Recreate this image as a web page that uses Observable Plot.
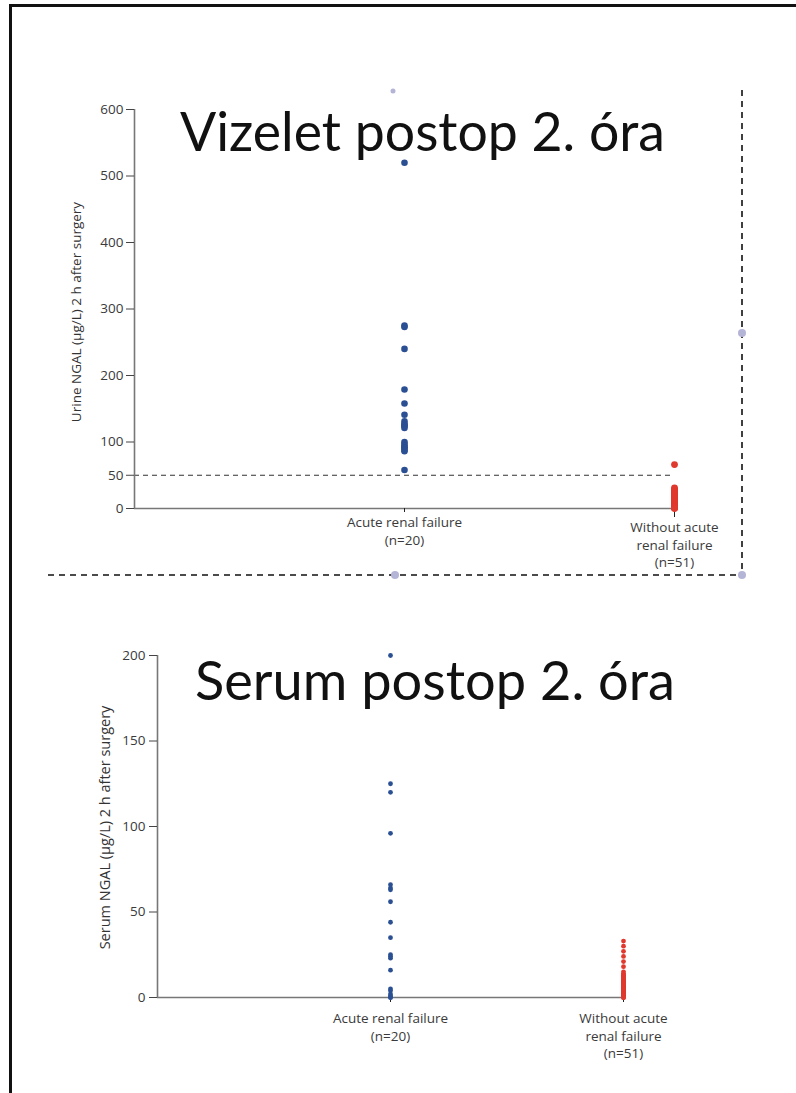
<!DOCTYPE html>
<html><head><meta charset="utf-8">
<script src="https://cdn.jsdelivr.net/npm/d3@7"></script>
<script src="https://cdn.jsdelivr.net/npm/@observablehq/plot@0.6"></script>
<style>
html,body{margin:0;padding:0;background:#fff;}
body{width:796px;height:1093px;position:relative;overflow:hidden;}
#frame{position:absolute;left:9px;top:4px;width:900px;height:1200px;border:3px solid #111;box-sizing:border-box;}
.chart{position:absolute;left:0;}
#c1{top:80px} #c2{top:620px}
#overlay{position:absolute;left:0;top:0;pointer-events:none;}
</style></head><body>
<div id="frame"></div>
<div id="c1" class="chart"></div>
<div id="c2" class="chart"></div>
<svg id="overlay" width="796" height="1093" xmlns="http://www.w3.org/2000/svg">
  <g fill="#111" font-family="Lato, 'Open Sans', sans-serif">
    <text x="180" y="151" font-size="54" textLength="485" lengthAdjust="spacingAndGlyphs">Vizelet postop 2. óra</text>
    <text x="195" y="700" font-size="54" textLength="480" lengthAdjust="spacingAndGlyphs">Serum postop 2. óra</text>
  </g>
  <g stroke="#111" stroke-width="1.6" stroke-dasharray="6,5" fill="none">
    <line x1="48" y1="575" x2="742" y2="575"></line>
    <line x1="742" y1="90" x2="742" y2="575"></line>
  </g>
  <g fill="#b4b4d6">
    <circle cx="395" cy="575" r="4"></circle>
    <circle cx="742" cy="575" r="4"></circle>
    <circle cx="742" cy="333" r="4"></circle>
    <circle cx="393" cy="91" r="2.5"></circle>
  </g>
</svg>
<script>
// ---- data ----
const groups = ["Acute renal failure\n(n=20)", "Without acute\nrenal failure\n(n=51)"];
const urineLabel = "Urine NGAL (\u00b5g/L) 2 h after surgery";
const serumLabel = "Serum NGAL (\u00b5g/L) 2 h after surgery";
const urineTicks = [0, 50, 100, 200, 300, 400, 500, 600];
const serumTicks = [0, 50, 100, 150, 200];
const urineCutoff = 50;
const urineARF = [520, 275, 273, 240, 179, 158, 141, 131, 127, 125, 124, 121, 100, 97, 94, 92, 91, 88, 86, 58];
const urineNoARF = [66, 31, 29, 28, 26, 25, 24, 23, 22, 21, 20, 19, 18, 17, 16, 15, 15, 14, 13, 12, 12, 11, 10, 10, 9, 9, 8, 8, 7, 7, 6, 6, 6, 5, 5, 5, 4, 4, 4, 3, 3, 3, 3, 2, 2, 2, 2, 1, 1, 1, 0];
const serumARF = [200, 125, 120, 96, 66, 64, 63, 56, 44, 35, 25, 24, 23, 16, 5, 4, 2, 1, 0, 0];
const serumNoARF = [33, 30, 27, 24, 21, 18, 15, 14, 13, 13, 12, 12, 11, 11, 10, 10, 9, 9, 9, 8, 8, 8, 7, 7, 7, 6, 6, 6, 5, 5, 5, 5, 4, 4, 4, 4, 3, 3, 3, 3, 2, 2, 2, 2, 1, 1, 1, 1, 0, 0, 0];

const blue = "#2b4f93";
const red = "#e0392e";
const rows = (vals, g) => vals.map(v => ({g, v}));

const style = {fontFamily: "'Open Sans', sans-serif", fontSize: "13.5px", color: "#3a3a3a", background: "transparent", overflow: "visible"};

const p1 = Plot.plot({
  width: 796, height: 500,
  marginTop: 29, marginBottom: 72, marginLeft: 134, marginRight: 122,
  x: {domain: [0, 2]},
  y: {domain: [0, 600]},
  style,
  marks: [
    Plot.ruleY([urineCutoff], {stroke: "#333", strokeDasharray: "5,4", strokeWidth: 1.2}),
    Plot.ruleX([0], {stroke: "#777", strokeWidth: 1.6}),
    Plot.ruleY([0], {stroke: "#777", strokeWidth: 1.6}),
    Plot.axisY({ticks: urineTicks, tickSize: 8, tickPadding: 3, label: null, stroke: "#444", fontSize: 13.5}),
    Plot.axisX({ticks: [1], tickFormat: () => groups[0], tickSize: 4, tickPadding: 2, lineHeight: 1.3, label: null, stroke: "#222", fontSize: 13.5}),
    Plot.axisX({ticks: [2], tickFormat: () => groups[1], tickSize: 9, tickPadding: 2, lineHeight: 1.3, label: null, stroke: "#222", fontSize: 13.5}),
    Plot.text([urineLabel], {text: d => d, frameAnchor: "left", textAnchor: "middle", rotate: -90, dx: -58, dy: 3, fontSize: 13.5, fill: "#333"}),
    Plot.dot(rows(urineARF, 1), {x: "g", y: "v", r: 3.3, fill: blue}),
    Plot.dot(rows(urineNoARF, 2), {x: "g", y: "v", r: 3.4, fill: red})
  ]
});
document.getElementById("c1").appendChild(p1);

const p2 = Plot.plot({
  width: 796, height: 460,
  marginTop: 35, marginBottom: 83, marginLeft: 157, marginRight: 173,
  x: {domain: [0, 2]},
  y: {domain: [0, 200]},
  style,
  marks: [
    Plot.ruleX([0], {stroke: "#777", strokeWidth: 1.6}),
    Plot.ruleY([0], {stroke: "#777", strokeWidth: 1.6}),
    Plot.axisY({ticks: serumTicks, tickSize: 8, tickPadding: 4, label: null, stroke: "#444", fontSize: 13.5}),
    Plot.axisX({ticks: [1, 2], tickFormat: d => groups[d - 1], tickSize: 5, tickPadding: 8, lineHeight: 1.3, label: null, stroke: "#222", fontSize: 13.5}),
    Plot.text([serumLabel], {text: d => d, frameAnchor: "left", textAnchor: "middle", rotate: -90, dx: -52, dy: 1, fontSize: 14.5, fill: "#333"}),
    Plot.dot(rows(serumARF, 1), {x: "g", y: "v", r: 2.4, fill: blue}),
    Plot.dot(rows(serumNoARF, 2), {x: "g", y: "v", r: 2.4, fill: red})
  ]
});
document.getElementById("c2").appendChild(p2);
</script>
</body></html>
